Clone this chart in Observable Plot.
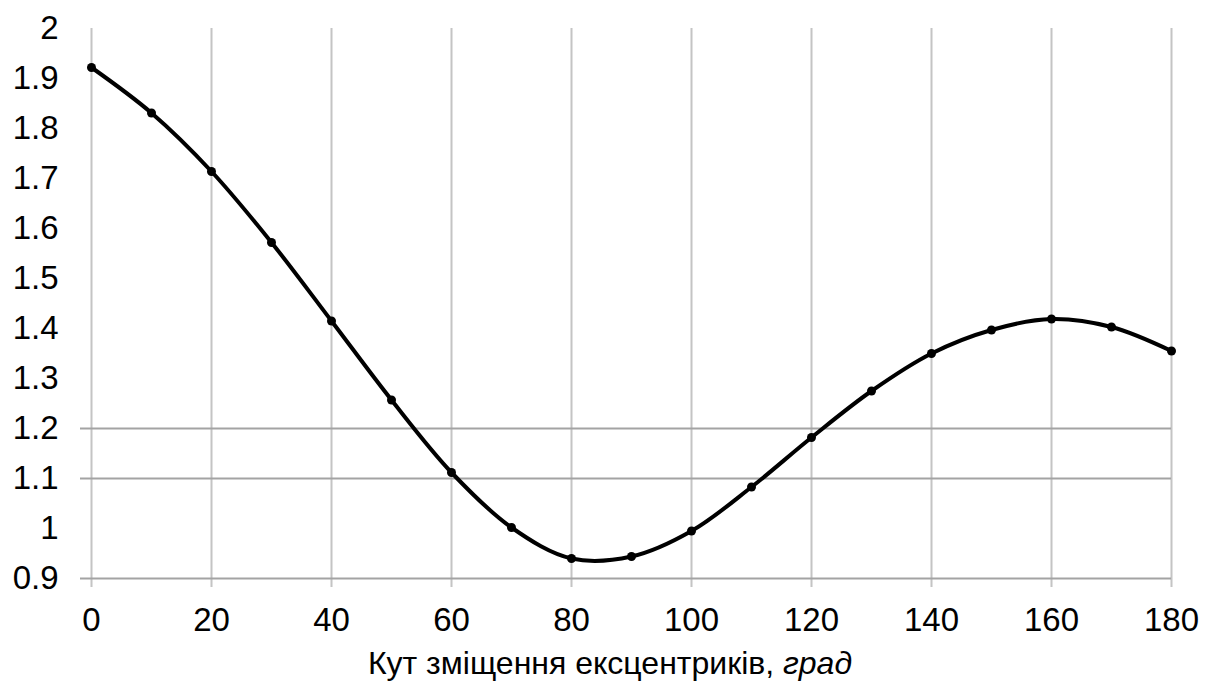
<!DOCTYPE html>
<html>
<head>
<meta charset="utf-8">
<script src="https://cdn.jsdelivr.net/npm/d3@7"></script>
<script src="https://cdn.jsdelivr.net/npm/@observablehq/plot@0.6"></script>
<style>
  html, body { margin: 0; padding: 0; background: #fff; }
  svg { display: block; }
</style>
</head>
<body>
<div id="chart"></div>
<script>
const angles = [0, 10, 20, 30, 40, 50, 60, 70, 80, 90, 100, 110, 120, 130, 140, 150, 160, 170, 180];
const values = [1.922, 1.831, 1.714, 1.572, 1.415, 1.257, 1.112, 1.002, 0.940, 0.944, 0.995, 1.083, 1.182, 1.275, 1.350, 1.397, 1.419, 1.403, 1.355];
const xTicks = [0, 20, 40, 60, 80, 100, 120, 140, 160, 180];
const yTicks = [0.9, 1, 1.1, 1.2, 1.3, 1.4, 1.5, 1.6, 1.7, 1.8, 1.9, 2];
const hLines = [0.9, 1.1, 1.2];
const xLabelMain = "Кут зміщення ексцентриків, ";
const xLabelUnit = "град";

const data = angles.map((a, i) => ({angle: a, value: values[i]}));

const chart = Plot.plot({
  width: 1209,
  height: 686,
  marginLeft: 91,
  marginRight: 38,
  marginTop: 28,
  marginBottom: 108,
  style: {fontFamily: "'Liberation Sans', Arial, sans-serif", fontSize: "33px", color: "#000", background: "#fff"},
  x: {domain: [0, 180], ticks: xTicks},
  y: {domain: [0.9, 2], ticks: yTicks},
  marks: [
    Plot.ruleX(xTicks, {y1: 2, y2: 0.9, stroke: "#c4c4c4", strokeWidth: 2, insetBottom: -9}),
    Plot.ruleY(hLines, {x1: 0, x2: 180, stroke: "#a3a3a3", strokeWidth: 2, insetLeft: -11}),
    Plot.axisX({ticks: xTicks, tickSize: 0, tickPadding: 29, label: null, fill: "#000", fontSize: 33, tickFormat: d => String(d)}),
    Plot.axisY({ticks: yTicks, tickSize: 0, tickPadding: 33, label: null, fill: "#000", fontSize: 33, tickFormat: d => String(d)}),
    Plot.line(data, {x: "angle", y: "value", curve: "catmull-rom", stroke: "#000", strokeWidth: 4}),
    Plot.dot(data, {x: "angle", y: "value", r: 4.5, fill: "#000", stroke: "none"})
  ]
});

const svg = d3.select(chart);
const t = svg.append("text")
  .attr("x", 610)
  .attr("y", 674)
  .attr("text-anchor", "middle")
  .attr("fill", "#000")
  .style("font-family", "'Liberation Sans', Arial, sans-serif")
  .style("font-size", "32px");
t.append("tspan").text(xLabelMain);
t.append("tspan").style("font-style", "italic").text(xLabelUnit);

document.getElementById("chart").appendChild(chart);
</script>
</body>
</html>
